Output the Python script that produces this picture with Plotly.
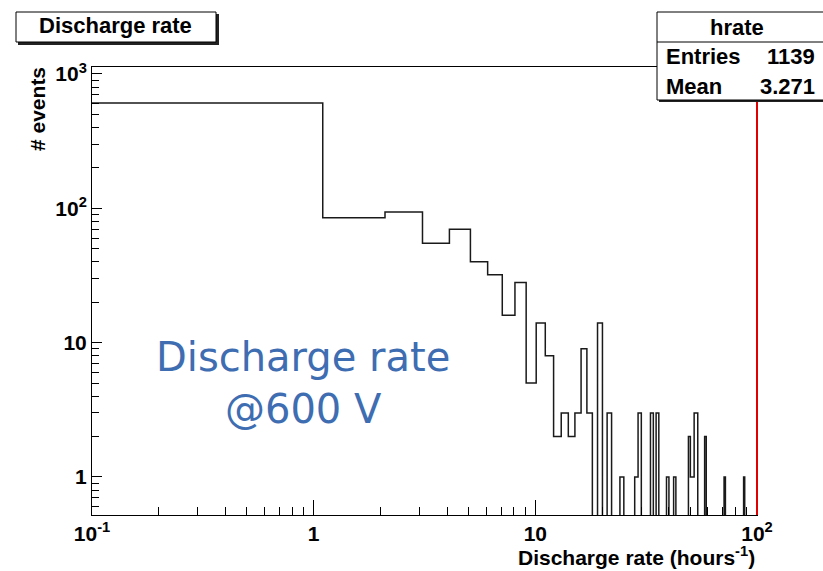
import plotly.graph_objects as go

# ---------------- data ----------------
x_min = 0.1
bin_width = 0.999
counts = [
    609, 85, 94, 55, 70, 40, 32, 16, 28, 5,
    14, 8, 2, 3, 2, 3, 9, 3, 0, 14,
    0, 3, 0, 0, 1, 0, 0, 0, 1, 3,
    0, 0, 0, 3, 0, 3, 0, 0, 0, 1,
    0, 0, 1, 0, 0, 0, 0, 0, 0, 2,
    1, 1, 3, 3, 0, 0, 0, 0, 2, 0,
    0, 0, 0, 0, 0, 0, 0, 0, 0, 0,
    0, 1, 0, 0, 0, 0, 0, 0, 0, 0,
    0, 0, 0, 0, 0, 0, 0, 1, 0, 0,
    0, 0, 0, 0, 0, 0, 0, 0, 0, 0,
]
x_tickvals = [0.1, 1, 10, 100]
x_ticktext = ["10<sup>-1</sup>", "1", "10", "10<sup>2</sup>"]
y_tickvals = [1, 10, 100, 1000]
y_ticktext = ["1", "10", "10<sup>2</sup>", "10<sup>3</sup>"]
hist_name = "hrate"
stat_entries = "1139"
stat_mean = "3.271"

# ---------------- geometry ----------------
W, H = 823, 571
L, R, T, B = 92, 757, 67, 515

def px(x):
    return (x - L) / (R - L)

def py(y):
    return (B - y) / (B - T)

edges = [x_min + i * bin_width for i in range(len(counts) + 1)]
floor_val = 0.01  # empty bins drawn down to (below) the frame bottom
ys = [c if c > 0 else floor_val for c in counts]
ys = ys + [ys[-1]]

fig = go.Figure()
fig.add_trace(go.Scatter(
    x=edges, y=ys, mode="lines", line_shape="hv",
    line=dict(color="#1a1a1a", width=1.5), showlegend=False, hoverinfo="skip",
))

FAM = "Liberation Sans, Arial, sans-serif"
tickfont = dict(family=FAM, size=21, color="black", weight="bold")

x_minor = [m * 10 ** e for e in (-1, 0, 1) for m in range(2, 10)]
y_minor = [m * 10 ** e for e in (-1, 0, 1, 2) for m in range(2, 10) if m * 10 ** e >= 0.52]

fig.update_xaxes(
    type="log", range=[-1, 2], tickvals=x_tickvals, ticktext=x_ticktext,
    ticks="inside", ticklen=15, tickwidth=1, tickcolor="black",
    showline=True, linecolor="black", linewidth=1, mirror=True,
    showgrid=False, zeroline=False, tickfont=tickfont,
    minor=dict(ticks="inside", ticklen=8, tickcolor="black", tickvals=x_minor, showgrid=False),
)
fig.update_yaxes(
    type="log", range=[-0.283, 3.052], tickvals=y_tickvals, ticktext=y_ticktext,
    ticks="inside", ticklen=10, tickwidth=1, tickcolor="black",
    showline=True, linecolor="black", linewidth=1, mirror=True,
    showgrid=False, zeroline=False, tickfont=tickfont,
    minor=dict(ticks="inside", ticklen=7, tickcolor="black", tickvals=y_minor, showgrid=False),
)

shapes = []
# red right edge
shapes.append(dict(type="line", xref="paper", yref="paper", x0=1, x1=1, y0=0, y1=1,
                   line=dict(color="#e00000", width=2)))
# title box with shadow
shapes.append(dict(type="rect", xref="paper", yref="paper", x0=px(18), x1=px(219), y0=py(14), y1=py(45),
                   fillcolor="#222", line=dict(width=0)))
shapes.append(dict(type="rect", xref="paper", yref="paper", x0=px(16), x1=px(216), y0=py(12), y1=py(42),
                   fillcolor="white", line=dict(color="black", width=1)))
# stats box with shadow
shapes.append(dict(type="rect", xref="paper", yref="paper", x0=px(659), x1=px(835), y0=py(14), y1=py(102),
                   fillcolor="#222", line=dict(width=0)))
shapes.append(dict(type="rect", xref="paper", yref="paper", x0=px(657), x1=px(833), y0=py(12), y1=py(100),
                   fillcolor="white", line=dict(color="black", width=1)))
shapes.append(dict(type="line", xref="paper", yref="paper", x0=px(657), x1=px(833), y0=py(42), y1=py(42),
                   line=dict(color="black", width=1)))

bold = dict(family=FAM, size=22, color="black", weight="bold")
ann = []
ann.append(dict(text="Discharge rate", x=px(115), y=py(26), xref="paper", yref="paper",
                xanchor="center", yanchor="middle", showarrow=False, font=bold))
ann.append(dict(text=hist_name, x=px(737), y=py(27), xref="paper", yref="paper",
                xanchor="center", yanchor="middle", showarrow=False, font=bold))
ann.append(dict(text="Entries", x=px(664), y=py(57), xref="paper", yref="paper",
                xanchor="left", yanchor="middle", showarrow=False, font=bold))
ann.append(dict(text=stat_entries, x=px(817), y=py(57), xref="paper", yref="paper",
                xanchor="right", yanchor="middle", showarrow=False, font=bold))
ann.append(dict(text="Mean", x=px(664), y=py(86), xref="paper", yref="paper",
                xanchor="left", yanchor="middle", showarrow=False, font=bold))
ann.append(dict(text=stat_mean, x=px(817), y=py(86), xref="paper", yref="paper",
                xanchor="right", yanchor="middle", showarrow=False, font=bold))
# axis titles
axfont = dict(family=FAM, size=21, color="black", weight="bold")
ann.append(dict(text="Discharge rate (hours<sup>-1</sup>)", x=1, y=py(556), xref="paper", yref="paper",
                xanchor="right", yanchor="middle", showarrow=False, font=axfont))
ann.append(dict(text="# events", x=px(37), y=py(109), xref="paper", yref="paper", textangle=-90,
                xanchor="center", yanchor="middle", showarrow=False, font=axfont))
# overlay label
blue = dict(family="DejaVu Sans, Open Sans, sans-serif", size=40, color="#3e6db2", weight="normal")
ann.append(dict(text="Discharge rate<br>@600 V", x=px(303), y=py(383), xref="paper", yref="paper",
                xanchor="center", yanchor="middle", align="center", showarrow=False, font=blue))

fig.update_layout(
    width=W, height=H,
    margin=dict(l=L, r=W - R, t=T, b=H - B, pad=0),
    paper_bgcolor="white", plot_bgcolor="white",
    shapes=shapes, annotations=ann, showlegend=False,
)

fig.write_html("out.html", config={"displayModeBar": False},
               post_script="document.body.style.margin='0';")
